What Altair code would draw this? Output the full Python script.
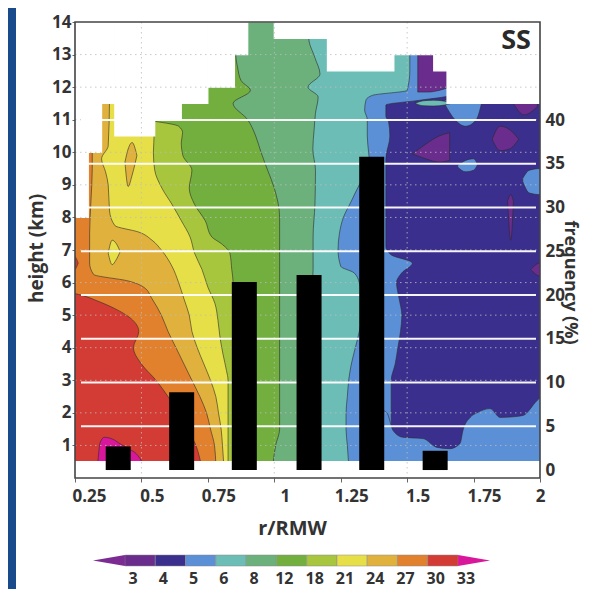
import altair as alt
import pandas as pd

FONT = "Open Sans"
INK = "#333333"
LINE = "#2b2b2b"
BLUE_BG = "#194b8c"

# ---- colour levels (lowest -> highest) ----
LEVEL_TICKS = ["3", "4", "5", "6", "8", "12", "18", "21", "24", "27", "30", "33"]
LEVEL_COLORS = ["#7b2b91", "#6a2c8d", "#3b2f8e", "#5b8fd6", "#6bbdb6", "#6cb07c",
                "#73af3f", "#a7c53d", "#e7df48", "#e1b13e", "#e1812e", "#d33b35", "#d8179a"]

# ---- contour boundaries: right edge (r/RMW) of region >= level, by height (km) ----
A_H = [0.4, 1.0, 1.5, 2.0, 2.5, 3.0, 3.5, 4.0, 4.5, 4.9, 5.2, 5.45, 5.6, 5.75]
A_R = [0.725, 0.705, 0.675, 0.64, 0.60, 0.555, 0.50, 0.47, 0.49, 0.46, 0.40, 0.33, 0.28, 0.20]

B_H = [0.4, 1.0, 1.5, 2.0, 2.5, 3.0, 3.5, 4.0, 4.5, 5.0, 5.5, 5.85, 6.05, 6.25, 6.6, 7.5, 8.5, 9.5, 10.2]
B_R = [0.78, 0.775, 0.76, 0.745, 0.72, 0.69, 0.66, 0.63, 0.60, 0.575, 0.54, 0.51, 0.45, 0.32, 0.305, 0.305, 0.31, 0.315, 0.315]

C_H = [0.4, 1.0, 1.5, 2.0, 2.5, 3.0, 3.5, 4.0, 4.5, 5.0, 5.5, 6.0, 6.5, 7.0, 7.3, 7.55, 7.75, 8.2, 9.0, 9.4, 9.8, 10.2, 11.6]
C_R = [0.81, 0.805, 0.80, 0.79, 0.78, 0.76, 0.735, 0.71, 0.69, 0.68, 0.66, 0.64, 0.615, 0.575, 0.54, 0.49, 0.40, 0.38, 0.375, 0.365, 0.35, 0.375, 0.38]

D_H = [0.4, 3.0, 3.3, 3.8, 4.3, 4.84, 5.35, 5.86, 6.4, 6.9, 7.4, 7.9, 8.4, 8.9, 9.45, 10.0, 10.6, 11.0, 11.6]
D_R = [0.826, 0.826, 0.82, 0.807, 0.796, 0.788, 0.777, 0.75, 0.728, 0.70, 0.683, 0.65, 0.615, 0.577, 0.55, 0.545, 0.548, 0.50, 0.45]

E_H = [0.4, 6.0, 6.4, 6.9, 7.2, 7.4, 7.9, 8.4, 8.9, 9.45, 9.9, 10.3, 10.6, 10.8, 10.95]
E_R = [0.845, 0.845, 0.84, 0.833, 0.80, 0.765, 0.74, 0.70, 0.68, 0.69, 0.656, 0.65, 0.655, 0.64, 0.55]

F_H = [0.4, 1.0, 1.5, 8.0, 8.9, 9.45, 10.0, 10.5, 11.0, 11.5, 11.9, 12.2, 12.6, 13.0, 14.2]
F_R = [0.995, 1.005, 1.02, 1.02, 1.0, 0.975, 0.95, 0.93, 0.90, 0.845, 0.91, 0.875, 0.862, 0.855, 0.855]

G_H = [0.4, 4.84, 6.4, 7.4, 8.4, 9.45, 10.1, 10.7, 11.2, 11.7, 12.0, 12.4, 12.9, 13.5, 14.2]
G_R = [1.134, 1.134, 1.146, 1.146, 1.153, 1.155, 1.145, 1.15, 1.155, 1.165, 1.127, 1.172, 1.153, 1.13, 1.13]

H_H = [0.4, 1.0, 1.5, 2.0, 2.5, 3.0, 3.5, 4.0, 4.5, 5.0, 5.5, 6.0, 6.3, 6.5, 7.0, 7.5, 8.0, 8.5, 9.0, 9.5,
       10.0, 10.5, 11.0, 11.3, 11.6, 11.75, 11.9, 12.5, 14.2]
H_R = [1.28, 1.275, 1.27, 1.27, 1.275, 1.28, 1.29, 1.305, 1.32, 1.33, 1.33, 1.32, 1.30, 1.25, 1.24, 1.245, 1.26,
       1.29, 1.32, 1.36, 1.355, 1.35, 1.35, 1.34, 1.345, 1.37, 1.50, 1.51, 1.51]

I_H = [0.4, 2.0, 3.0, 3.5, 4.0, 4.5, 5.0, 5.5, 6.0, 6.3, 6.6, 6.85, 7.1, 9.8, 10.5, 10.95, 11.1, 11.45, 11.6, 11.75, 14.2]
I_R = [1.45, 1.44, 1.44, 1.455, 1.465, 1.475, 1.48, 1.47, 1.46, 1.48, 1.52, 1.44, 1.42, 1.42, 1.435, 1.43, 1.42, 1.42, 1.55, 1.66, 1.66]

# ---- closed patches: r, lower height, upper height ----
MAG_R = [0.335, 0.345, 0.36, 0.39, 0.42, 0.45, 0.48, 0.51]
MAG_HI = [0.4, 1.1, 1.25, 1.2, 1.05, 0.9, 0.75, 0.4]
MAG_LO = [0.4] * 8

GOLDI_R = [0.438, 0.45, 0.465, 0.483]
GOLDI_LO = [9.7, 8.95, 9.3, 9.9]
GOLDI_HI = [9.7, 10.1, 10.3, 9.9]

YELI_R = [0.375, 0.39, 0.405, 0.42]
YELI_LO = [6.9, 6.55, 6.7, 6.95]
YELI_HI = [6.9, 7.3, 7.2, 6.95]

REDI_R = [0.24, 0.252, 0.262]
REDI_LO = [6.35, 6.42, 6.6]
REDI_HI = [6.85, 6.78, 6.6]

LBB_R = [1.40, 1.424, 1.447, 1.484, 1.56, 1.612, 1.661, 1.699, 1.71, 1.737, 1.763, 1.812, 1.85, 1.90, 1.936, 1.989, 2.05]
LBB_HI = [2.1, 2.0, 1.46, 1.25, 1.21, 0.94, 0.9, 1.06, 1.46, 1.86, 2.0, 2.13, 1.86, 1.88, 1.92, 2.38, 2.8]
LBB_LO = [0.4] * 17

LBT_R = [1.64, 1.68, 1.72, 1.76, 1.78]
LBT_LO = [11.5, 11.0, 10.8, 11.0, 11.5]
LBT_HI = [11.6] * 5

LB1_R = [1.69, 1.72, 1.75, 1.765]
LB1_LO = [9.55, 9.4, 9.45, 9.62]
LB1_HI = [9.6, 9.75, 9.8, 9.62]

LB2_R = [1.935, 1.96, 2.0, 2.02]
LB2_LO = [9.1, 8.75, 8.7, 8.7]
LB2_HI = [9.2, 9.45, 9.5, 9.5]

TEALI_R = [1.53, 1.56, 1.60, 1.64, 1.665]
TEALI_LO = [11.5, 11.43, 11.42, 11.45, 11.5]
TEALI_HI = [11.5, 11.58, 11.6, 11.57, 11.5]

PT_R = [1.54, 1.58, 1.62, 1.66]
PT_LO = [11.85, 11.85, 11.9, 12.0]
PT_HI = [13.5, 13.5, 13.5, 13.5]

P1_R = [1.52, 1.57, 1.62, 1.66]
P1_LO = [9.95, 9.8, 9.7, 9.75]
P1_HI = [9.95, 10.25, 10.5, 10.6]

P2_R = [1.82, 1.85, 1.885, 1.92]
P2_LO = [10.4, 10.05, 10.1, 10.4]
P2_HI = [10.4, 10.8, 10.7, 10.4]

P3_R = [1.90, 1.94, 1.99]
P3_LO = [11.5, 11.15, 11.4]
P3_HI = [11.6, 11.6, 11.6]

P4_R = [1.878, 1.89, 1.90]
P4_LO = [8.5, 7.3, 8.5]
P4_HI = [8.5, 8.7, 8.5]

P5_R = [1.965, 2.0, 2.02]
P5_LO = [6.4, 6.2, 6.2]
P5_HI = [6.4, 6.6, 6.6]

# ---- areas without data (white) ----
MASK_R0 = [0.25, 0.30, 0.35, 0.40, 0.55, 0.65, 0.75, 0.85, 0.90, 1.00, 1.20, 1.45, 1.60, 1.65, 0.25]
MASK_R1 = [0.30, 0.35, 0.40, 0.55, 0.65, 0.75, 0.85, 0.90, 1.00, 1.20, 1.45, 1.60, 1.65, 2.00, 2.00]
MASK_LO = [8, 10, 11.5, 10.5, 11, 11.5, 12, 13, 14, 13.5, 12.5, 13, 12.5, 11.5, 0]
MASK_HI = [14] * 14 + [0.5]

# ---- frequency bars ----
BAR_R = [0.397, 0.641, 0.882, 1.131, 1.372, 1.616]
BAR_F = [2.7, 8.9, 21.5, 22.3, 35.8, 2.2]

HEIGHT_TICKS = list(range(1, 15))
R_TICKS = [0.25, 0.5, 0.75, 1, 1.25, 1.5, 1.75, 2]
FREQ_TICKS = [0, 5, 10, 15, 20, 25, 30, 35, 40]
FREQ_GRID = [5, 10, 15, 20, 25, 30, 35, 40]
DOT_H = list(range(1, 14))
DOT_R = [0.5, 1.0, 1.5]

XS = alt.Scale(domain=[0.25, 2.0], nice=False, zero=False)
YS = alt.Scale(domain=[0, 14], nice=False, zero=False)
FS = alt.Scale(domain=[-0.91, 51.2], nice=False, zero=False)
CBS = alt.Scale(domain=[0, 11], range=[50, 383], nice=False, zero=False)


def xr(field="r", axis=None):
    return alt.X(f"{field}:Q", scale=XS, axis=axis)


def yh(field="h", axis=None):
    return alt.Y(f"{field}:Q", scale=YS, axis=axis)


def band(hs, rs, color, stroke=True, axes=False):
    df = pd.DataFrame({"h": hs, "r": rs, "r0": [0.2] * len(hs)})
    kw = dict(orient="horizontal", interpolate="monotone", fill=color, opacity=1, clip=True)
    if stroke:
        kw.update(stroke=LINE, strokeWidth=0.7, strokeOpacity=0.85)
    xa = None
    ya = None
    if axes:
        xa = alt.Axis(values=R_TICKS, format=".3~g", title="r/RMW", grid=False, domain=False,
                      tickSize=4, tickColor="#666", labelPadding=6, labelFlush=False,
                      labelOffset={"condition": [{"test": "datum.value == 2", "value": 0},
                                                 {"test": "datum.value == 0.25", "value": 14}],
                                   "value": 10.5},
                      labelFontSize=17, titleFontSize=20, titleX=217, titleY=56,
                      titleAlign="center", titleBaseline="alphabetic")
        ya = alt.Axis(values=HEIGHT_TICKS, title="height (km)", grid=False, domain=False,
                      tickSize=3, tickColor="#666", labelPadding=1, labelFontSize=17,
                      titleFontSize=19, titleX=-39, titleY=226, titleAngle=-90,
                      titleAlign="center", titleBaseline="middle")
    return alt.Chart(df).mark_area(**kw).encode(x=xr("r", xa), x2="r0", y=yh("h", ya))


def patch(rs, lo, hi, color):
    df = pd.DataFrame({"r": rs, "lo": lo, "hi": hi})
    return alt.Chart(df).mark_area(orient="vertical", interpolate="monotone", fill=color, opacity=1,
                                   stroke=LINE, strokeWidth=0.7, strokeOpacity=0.85, clip=True).encode(
        x=xr(), y=yh("hi"), y2="lo")


layers = [
    band([0.4, 14.2], [2.1, 2.1], LEVEL_COLORS[2], stroke=False, axes=True),
    band(I_H, I_R, LEVEL_COLORS[3]),
    band(H_H, H_R, LEVEL_COLORS[4]),
    band(G_H, G_R, LEVEL_COLORS[5]),
    band(F_H, F_R, LEVEL_COLORS[6]),
    band(E_H, E_R, LEVEL_COLORS[7]),
    band(D_H, D_R, LEVEL_COLORS[8]),
    band(C_H, C_R, LEVEL_COLORS[9]),
    band(B_H, B_R, LEVEL_COLORS[10]),
    band(A_H, A_R, LEVEL_COLORS[11]),
    patch(MAG_R, MAG_LO, MAG_HI, LEVEL_COLORS[12]),
    patch(GOLDI_R, GOLDI_LO, GOLDI_HI, LEVEL_COLORS[9]),
    patch(YELI_R, YELI_LO, YELI_HI, LEVEL_COLORS[8]),
    patch(REDI_R, REDI_LO, REDI_HI, LEVEL_COLORS[11]),
    patch(LBB_R, LBB_LO, LBB_HI, LEVEL_COLORS[3]),
    patch(LBT_R, LBT_LO, LBT_HI, LEVEL_COLORS[3]),
    patch(LB1_R, LB1_LO, LB1_HI, LEVEL_COLORS[3]),
    patch(LB2_R, LB2_LO, LB2_HI, LEVEL_COLORS[3]),
    patch(TEALI_R, TEALI_LO, TEALI_HI, LEVEL_COLORS[4]),
    patch(PT_R, PT_LO, PT_HI, LEVEL_COLORS[1]),
    patch(P1_R, P1_LO, P1_HI, LEVEL_COLORS[1]),
    patch(P2_R, P2_LO, P2_HI, LEVEL_COLORS[1]),
    patch(P3_R, P3_LO, P3_HI, LEVEL_COLORS[1]),
    patch(P4_R, P4_LO, P4_HI, LEVEL_COLORS[1]),
    patch(P5_R, P5_LO, P5_HI, LEVEL_COLORS[1]),
]

mask_df = pd.DataFrame({"r0": MASK_R0, "r1": MASK_R1, "lo": MASK_LO, "hi": MASK_HI})
layers.append(alt.Chart(mask_df).mark_rect(fill="white", stroke="white", strokeWidth=1.2, clip=True).encode(
    x=xr("r0"), x2="r1", y=yh("lo"), y2="hi"))

# faint dotted grid
layers.append(alt.Chart(pd.DataFrame({"h": DOT_H})).mark_rule(
    color="#bdbdbd", strokeWidth=1, strokeDash=[1.5, 3.5], opacity=0.8).encode(
    y=yh(), x=alt.value(0), x2=alt.value(465)))
layers.append(alt.Chart(pd.DataFrame({"r": DOT_R})).mark_rule(
    color="#bdbdbd", strokeWidth=1, strokeDash=[1.5, 3.5], opacity=0.8).encode(
    x=xr(), y=alt.value(0), y2=alt.value(456)))

# white frequency grid lines
layers.append(alt.Chart(pd.DataFrame({"f": FREQ_GRID})).mark_rule(
    color="white", strokeWidth=2, opacity=0.95).encode(
    y=alt.Y("f:Q", scale=FS, axis=None), x=alt.value(6), x2=alt.value(461)))

# bars with right axis
bar_df = pd.DataFrame({"r": BAR_R, "f": BAR_F, "base": [0] * len(BAR_R)})
layers.append(alt.Chart(bar_df).mark_bar(size=25, color="black").encode(
    x=xr(),
    y=alt.Y("f:Q", scale=FS, axis=alt.Axis(orient="right", values=FREQ_TICKS, title="frequency (%)",
                                            grid=False, domain=False, ticks=False, labelPadding=5,
                                            labelFontSize=17, titleFontSize=18, titleX=29, titleY=260,
                                            titleAngle=90, titleAlign="center", titleBaseline="middle")),
    y2="base"))

# panel label
layers.append(alt.Chart(pd.DataFrame({"r": [1.966], "h": [13.18], "t": ["SS"]})).mark_text(
    align="right", baseline="alphabetic", font=FONT, fontSize=27, fontWeight="bold", color="#2a2a2a").encode(
    x=xr(), y=yh(), text="t:N"))

# plot frame
layers.append(alt.Chart(pd.DataFrame({"a": [0]})).mark_rect(
    filled=False, stroke="#444444", strokeWidth=1.6, clip=False).encode(
    x=alt.value(0), x2=alt.value(465), y=alt.value(0), y2=alt.value(456)))

# colour bar
cb_df = pd.DataFrame({"i": list(range(11)), "i2": list(range(1, 12)), "c": LEVEL_COLORS[1:12]})
layers.append(alt.Chart(cb_df).mark_rect(stroke="#8a8a8a", strokeWidth=0.5).encode(
    x=alt.X("i:Q", scale=CBS, axis=None), x2="i2",
    y=alt.value(533), y2=alt.value(544),
    fill=alt.Fill("c:N", scale=None)))
layers.append(alt.Chart(pd.DataFrame({"i": [-0.53], "c": [LEVEL_COLORS[0]]})).mark_point(
    shape="M -1 0 L 1 -0.34 L 1 0.34 Z", size=1024, filled=True, opacity=1, strokeWidth=0).encode(
    x=alt.X("i:Q", scale=CBS, axis=None), y=alt.value(538.5), fill=alt.Fill("c:N", scale=None)))
layers.append(alt.Chart(pd.DataFrame({"i": [11.53], "c": [LEVEL_COLORS[12]]})).mark_point(
    shape="M 1 0 L -1 -0.34 L -1 0.34 Z", size=1024, filled=True, opacity=1, strokeWidth=0).encode(
    x=alt.X("i:Q", scale=CBS, axis=None), y=alt.value(538.5), fill=alt.Fill("c:N", scale=None)))
layers.append(alt.Chart(pd.DataFrame({"i": list(range(12)), "t": LEVEL_TICKS})).mark_text(
    dx=8, font=FONT, fontSize=16, fontWeight="bold", color=INK, baseline="middle").encode(
    x=alt.X("i:Q", scale=CBS, axis=None), y=alt.value(557), text="t:N"))

# slide background strip
layers.append(alt.Chart(pd.DataFrame({"a": [0]})).mark_rect(color=BLUE_BG, clip=False).encode(
    x=alt.value(-67), x2=alt.value(-59), y=alt.value(-14), y2=alt.value(567)))

chart = alt.layer(*layers).resolve_scale(x="independent", y="independent").properties(
    width=465, height=456,
    autosize=alt.AutoSizeParams(type="none"),
    padding={"left": 67, "top": 14, "right": 44, "bottom": 111},
    background="white",
).configure_view(strokeWidth=0).configure_axis(
    labelFont=FONT, titleFont=FONT, labelColor=INK, titleColor=INK,
    labelFontWeight="bold", titleFontWeight="bold")

chart.save("out.html", embed_options={"renderer": "svg", "actions": False})
